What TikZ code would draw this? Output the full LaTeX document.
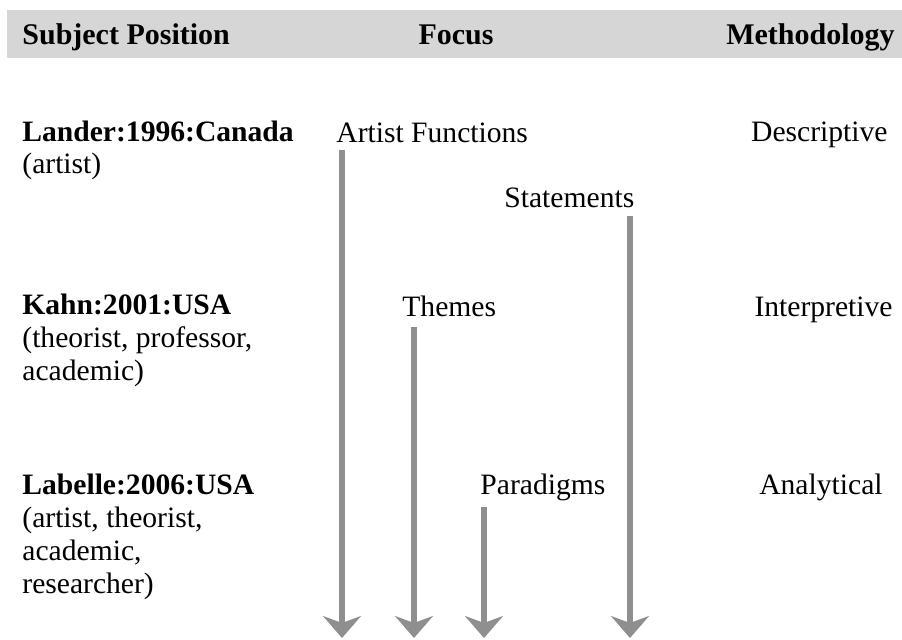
\documentclass[tikz,border=0pt]{standalone}
\usepackage{fontspec}
\setmainfont{Liberation Serif}
\usetikzlibrary{arrows.meta}

\definecolor{bandgrey}{gray}{0.84}
\definecolor{arrowgrey}{gray}{0.56}

\tikzset{
  colhead/.style={anchor=base west,inner sep=0pt,font=\bfseries\fontsize{15}{18}\selectfont},
  who/.style={anchor=base west,inner sep=0pt,font=\bfseries\fontsize{14.8}{16.3}\selectfont},
  entry/.style={anchor=base west,inner sep=0pt,font=\fontsize{14.8}{16.3}\selectfont},
  focusarrow/.style={arrowgrey,line width=2.6pt,-{Stealth[length=11pt,width=19pt,inset=3.5pt]}}
}

\begin{document}
\begin{tikzpicture}[x=0.5pt,y=0.5pt]
    \useasboundingbox (0,0) rectangle (902,-639);
    % Kopbalk
    \fill[bandgrey] (7,-10) rectangle (902,-58);
    \node[colhead] (hsubject) at (22,-44) {Subject Position};
    \node[colhead,anchor=base] (hfocus) at (456,-44) {Focus};
    \node[colhead,anchor=base east] (hmethod) at (895,-44) {Methodology};
    % Subject position
    \node[who] (lander) at (22,-141) {Lander:1996:Canada};
    \node[entry] (landerrole) at (22,-173) {(artist)};
    \node[who] (kahn) at (22,-314) {Kahn:2001:USA};
    \node[entry] (kahnroleA) at (22,-347) {(theorist, professor,};
    \node[entry] (kahnroleB) at (22,-380) {academic)};
    \node[who] (labelle) at (22,-494) {Labelle:2006:USA};
    \node[entry] (labelleroleA) at (22,-527) {(artist, theorist,};
    \node[entry] (labelleroleB) at (22,-560) {academic,};
    \node[entry] (labelleroleC) at (22,-593) {researcher)};
    % Focus
    \node[entry] (artfunc) at (336,-142) {Artist Functions};
    \node[entry] (statements) at (504,-207) {Statements};
    \node[entry] (themes) at (402,-316) {Themes};
    \node[entry] (paradigms) at (480,-494) {Paradigms};
    % Methodology
    \node[entry,anchor=base east] (descr) at (888,-141) {Descriptive};
    \node[entry,anchor=base east] (interp) at (893,-316) {Interpretive};
    \node[entry,anchor=base east] (analyt) at (883,-494) {Analytical};
    % Pijlen
    \coordinate (artfunctop) at (342,-150);
    \coordinate (artfuncend) at (342,-638);
    \coordinate (statementstop) at (630,-216);
    \coordinate (statementsend) at (630,-638);
    \coordinate (themestop) at (414,-327);
    \coordinate (themesend) at (414,-638);
    \coordinate (paradigmstop) at (484,-507);
    \coordinate (paradigmsend) at (484,-638);
    \draw[focusarrow] (artfunctop) -- (artfuncend);
    \draw[focusarrow] (statementstop) -- (statementsend);
    \draw[focusarrow] (themestop) -- (themesend);
    \draw[focusarrow] (paradigmstop) -- (paradigmsend);
\end{tikzpicture}
\end{document}
